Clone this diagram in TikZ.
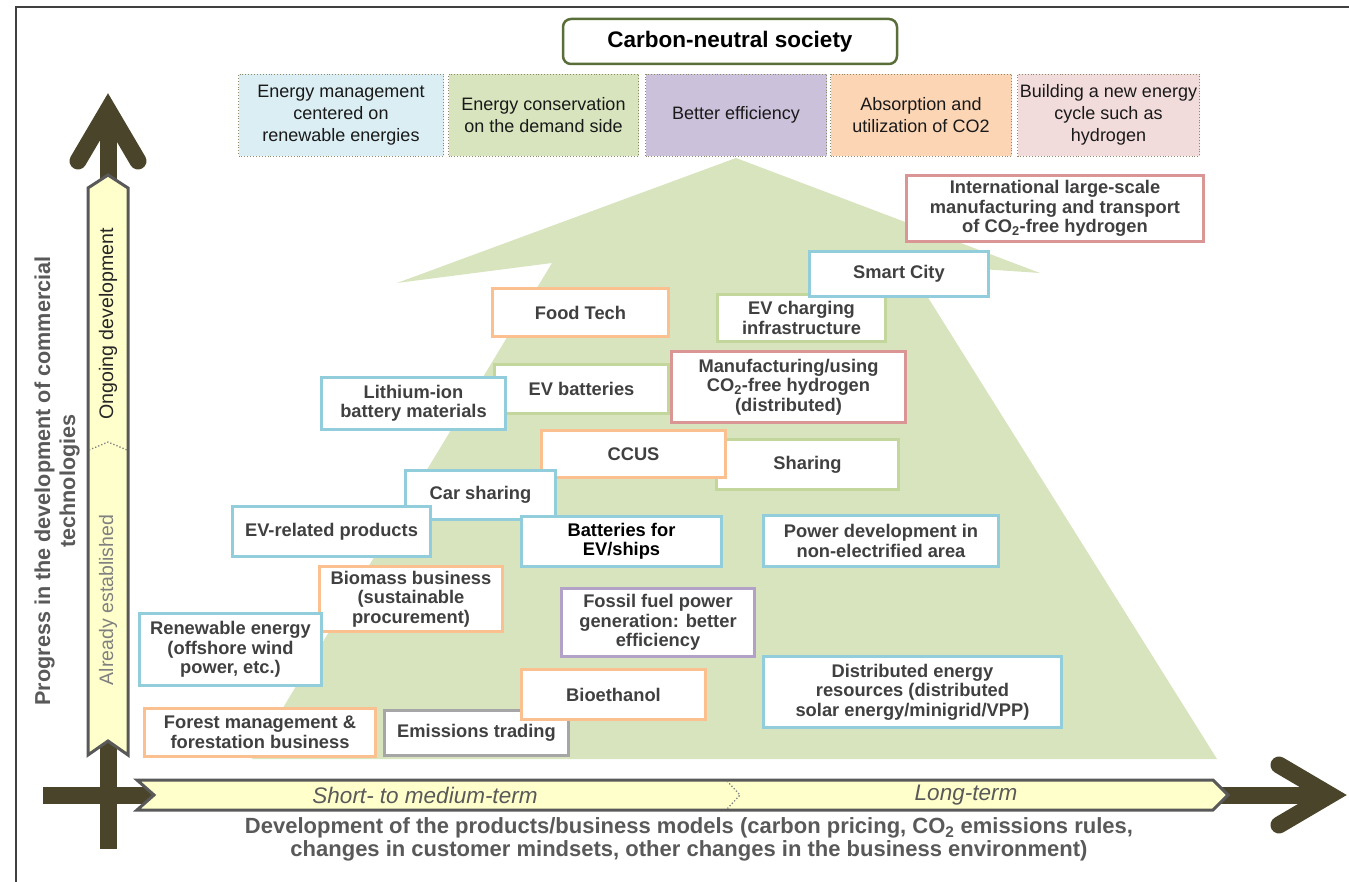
\documentclass[tikz,border=0pt]{standalone}
\usepackage{fontspec}
\setmainfont{Liberation Sans}
\definecolor{greenfill}{HTML}{D7E4BD}
\definecolor{darkarr}{HTML}{4A442A}
\definecolor{yfill}{HTML}{FFFFCC}
\definecolor{ybord}{HTML}{595959}
\definecolor{bB}{HTML}{92CDDC}
\definecolor{oB}{HTML}{FAC090}
\definecolor{gB}{HTML}{C3D69B}
\definecolor{rB}{HTML}{D99694}
\definecolor{pB}{HTML}{B3A2C7}
\definecolor{grB}{HTML}{A6A6A6}
\definecolor{catA}{HTML}{DBEEF4}
\definecolor{catB}{HTML}{D7E4BD}
\definecolor{catC}{HTML}{CCC1DA}
\definecolor{catD}{HTML}{FCD5B5}
\definecolor{catE}{HTML}{F2DCDB}
\definecolor{txt}{HTML}{404040}
\definecolor{lbl}{HTML}{595959}
\definecolor{cnb}{HTML}{5A6E3A}
\definecolor{catbord}{HTML}{8C8A6A}
\tikzset{
  ib/.style={draw=#1, line width=3.2, fill=white, inner sep=0pt, align=center,
    text=txt, font=\fontsize{18.3}{19.5}\selectfont\bfseries},
  cat/.style={draw=catbord, fill=#1, dotted, line width=0.9, inner sep=0pt, align=center,
    text=black!90, font=\fontsize{18}{21.7}\selectfont, minimum height=82},
  darkline/.style={draw=darkarr, line width=17},
  darkhead/.style={draw=darkarr, line width=17, line cap=round, line join=miter, miter limit=10},
  yarrow/.style={draw=ybord, fill=yfill, line width=3, line join=miter},
  divider/.style={draw=gray, dotted, line width=1.3},
}
\begin{document}
\begin{tikzpicture}[x=1pt,y=-1pt]
\useasboundingbox (0,0) rectangle (1349,882);
% frame
\draw[line width=2, color=black!75] (16,882) -- (16,7) -- (1349,7);
% green arrow shape
\fill[greenfill] (736,158) -- (1040,273) -- (907,264) -- (1217,759) -- (252,759) -- (552,263) -- (397,283) -- cycle;
% dark axes
\draw[darkline] (108,849) -- (108,118);
\draw[darkhead] (78,161) -- (108,110) -- (138,161);
\draw[darkline] (43,795) -- (1322,795);
\draw[darkhead] (1279,765) -- (1330,795) -- (1279,825);
% yellow arrows
\draw[yarrow] (88,755) -- (88,188) -- (108,175) -- (128,188) -- (128,755) -- (108,741) -- cycle;
\draw[divider] (89,450) -- (108,442) -- (127,450);
\draw[yarrow] (137,780) -- (1213,780) -- (1228,795) -- (1213,810) -- (137,810) -- (154,795) -- cycle;
\draw[divider] (727,781) -- (740,795) -- (727,809);
\node[rotate=90, text=black!85, font=\fontsize{19.6}{21}\selectfont] (ongoing) at (108,324) {Ongoing development};
\node[rotate=90, text=black!50, font=\fontsize{19.5}{21}\selectfont] (already) at (108,600) {Already established};
\node[text=lbl, font=\fontsize{22.5}{24}\selectfont\itshape] (short) at (425,795) {Short- to medium-term};
\node[text=lbl, font=\fontsize{22.5}{24}\selectfont\itshape] (long) at (966,795) {Long-term};
% axis labels
\node[rotate=90, align=center, text=lbl, font=\fontsize{21.6}{25}\selectfont\bfseries] (ylabel) at (57,481)
  {Progress in the development of commercial\\technologies};
\node[align=center, text=lbl, font=\fontsize{22}{23}\selectfont\bfseries] (xlabel) at (689,839.5)
  {Development of the products/business models (carbon pricing, CO\textsubscript{2} emissions rules,\\changes in customer mindsets, other changes in the business environment)};
% top
\node[draw=cnb, line width=2.5, rounded corners=8, fill=white, minimum width=334, minimum height=45,
  font=\fontsize{22.5}{24}\selectfont\bfseries] (cns) at (730,41.5) {Carbon-neutral society};
\node[cat=catA, minimum width=205] (c1) at (341,115) {Energy management\\centered on\\renewable energies};
\node[cat=catB, minimum width=190] (c2) at (543.5,115) {Energy conservation\\on the demand side};
\node[cat=catC, minimum width=181] (c3) at (736,115) {Better efficiency};
\node[cat=catD, minimum width=181] (c4) at (921,115) {Absorption and\\utilization of CO2};
\node[cat=catE, minimum width=182] (c5) at (1108.5,115) {Building a new energy\\cycle such as\\hydrogen};
% inner boxes
\node[ib=rB, minimum width=297, minimum height=66] (intl) at (1055,208.5) {International large-scale\\manufacturing and transport\\of CO\textsubscript{2}-free hydrogen};
\node[ib=gB, minimum width=168, minimum height=47] (evch) at (801.5,318) {EV charging\\infrastructure};
\node[ib=bB, minimum width=179, minimum height=45] (smart) at (899,274) {Smart City};
\node[ib=oB, minimum width=176, minimum height=48] (food) at (580.5,312.5) {Food Tech};
\node[ib=gB, minimum width=174, minimum height=49] (evbat) at (581.5,389) {EV batteries};
\node[ib=rB, minimum width=234, minimum height=71] (manu) at (788.5,387) {Manufacturing/using\\CO\textsubscript{2}-free hydrogen\\(distributed)};
\node[ib=bB, minimum width=184, minimum height=52] (liion) at (413.5,403.5) {Lithium-ion\\battery materials};
\node[ib=gB, minimum width=182, minimum height=50] (sharing) at (807.5,464.5) {Sharing};
\node[ib=oB, minimum width=184, minimum height=47] (ccus) at (633.5,454) {CCUS};
\node[ib=bB, minimum width=150, minimum height=49] (carsh) at (480.5,495) {Car sharing};
\node[ib=bB, minimum width=198, minimum height=50] (evrel) at (331.5,531.5) {EV-related products};
\node[ib=bB, minimum width=200, minimum height=50, text=black] (batsh) at (621.5,541.5) {Batteries for\\EV/ships};
\node[ib=bB, minimum width=235, minimum height=51] (powdev) at (881,541) {Power development in\\non-electrified area};
\node[ib=oB, minimum width=183, minimum height=65] (biomass) at (411,599) {Biomass business\\(sustainable\\procurement)};
\node[ib=pB, minimum width=193, minimum height=68] (fossil) at (658,622.5) {Fossil fuel power\\generation: better\\efficiency};
\node[ib=bB, minimum width=182, minimum height=72] (renew) at (230.5,649.5) {Renewable energy\\(offshore wind\\power, etc.)};
\node[ib=bB, minimum width=298, minimum height=71] (distrib) at (912.5,692) {Distributed energy\\resources (distributed\\solar energy/minigrid/VPP)};
\node[ib=grB, minimum width=184, minimum height=45] (emis) at (476.5,733) {Emissions trading};
\node[ib=oB, minimum width=184, minimum height=50] (bioeth) at (613.5,694.5) {Bioethanol};
\node[ib=oB, minimum width=231, minimum height=48] (forest) at (260,732.5) {Forest management \&\\forestation business};
\end{tikzpicture}
\end{document}
